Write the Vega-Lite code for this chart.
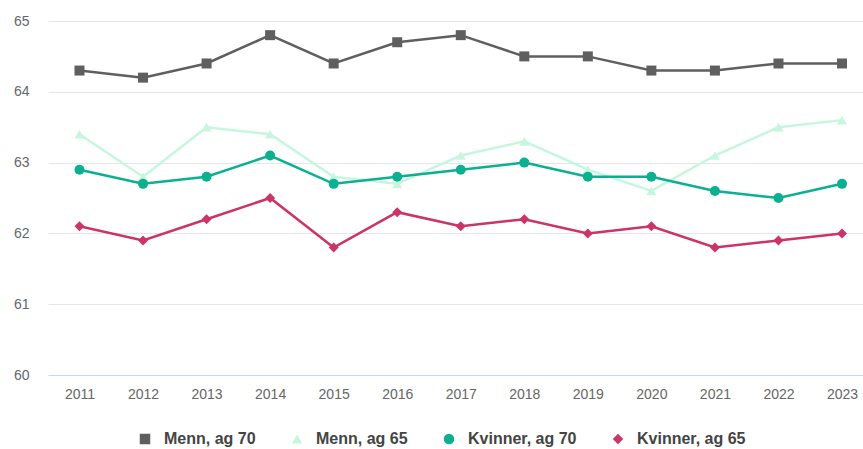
{
  "$schema": "https://vega.github.io/schema/vega-lite/v6.json",
  "width": 815,
  "height": 354,
  "autosize": {"type": "none"},
  "padding": {"left": 48, "top": 21, "right": 0, "bottom": 74},
  "background": "#ffffff",
  "config": {
    "view": {"stroke": null},
    "font": "Liberation Sans",
    "legend": {
      "title": null,
      "orient": "none",
      "direction": "horizontal",
      "legendX": 89,
      "legendY": 410,
      "labelFontSize": 16,
      "labelFontWeight": "bold",
      "labelColor": "#444444",
      "labelOffset": 11,
      "columnPadding": 33,
      "symbolSize": 110,
      "symbolStrokeWidth": 0,
      "symbolOpacity": 1
    }
  },
  "data": {
    "values": [
      {"year": "2011", "serie": "Menn, ag 70", "value": 64.3},
      {"year": "2012", "serie": "Menn, ag 70", "value": 64.2},
      {"year": "2013", "serie": "Menn, ag 70", "value": 64.4},
      {"year": "2014", "serie": "Menn, ag 70", "value": 64.8},
      {"year": "2015", "serie": "Menn, ag 70", "value": 64.4},
      {"year": "2016", "serie": "Menn, ag 70", "value": 64.7},
      {"year": "2017", "serie": "Menn, ag 70", "value": 64.8},
      {"year": "2018", "serie": "Menn, ag 70", "value": 64.5},
      {"year": "2019", "serie": "Menn, ag 70", "value": 64.5},
      {"year": "2020", "serie": "Menn, ag 70", "value": 64.3},
      {"year": "2021", "serie": "Menn, ag 70", "value": 64.3},
      {"year": "2022", "serie": "Menn, ag 70", "value": 64.4},
      {"year": "2023", "serie": "Menn, ag 70", "value": 64.4},
      {"year": "2011", "serie": "Menn, ag 65", "value": 63.4},
      {"year": "2012", "serie": "Menn, ag 65", "value": 62.8},
      {"year": "2013", "serie": "Menn, ag 65", "value": 63.5},
      {"year": "2014", "serie": "Menn, ag 65", "value": 63.4},
      {"year": "2015", "serie": "Menn, ag 65", "value": 62.8},
      {"year": "2016", "serie": "Menn, ag 65", "value": 62.7},
      {"year": "2017", "serie": "Menn, ag 65", "value": 63.1},
      {"year": "2018", "serie": "Menn, ag 65", "value": 63.3},
      {"year": "2019", "serie": "Menn, ag 65", "value": 62.9},
      {"year": "2020", "serie": "Menn, ag 65", "value": 62.6},
      {"year": "2021", "serie": "Menn, ag 65", "value": 63.1},
      {"year": "2022", "serie": "Menn, ag 65", "value": 63.5},
      {"year": "2023", "serie": "Menn, ag 65", "value": 63.6},
      {"year": "2011", "serie": "Kvinner, ag 70", "value": 62.9},
      {"year": "2012", "serie": "Kvinner, ag 70", "value": 62.7},
      {"year": "2013", "serie": "Kvinner, ag 70", "value": 62.8},
      {"year": "2014", "serie": "Kvinner, ag 70", "value": 63.1},
      {"year": "2015", "serie": "Kvinner, ag 70", "value": 62.7},
      {"year": "2016", "serie": "Kvinner, ag 70", "value": 62.8},
      {"year": "2017", "serie": "Kvinner, ag 70", "value": 62.9},
      {"year": "2018", "serie": "Kvinner, ag 70", "value": 63.0},
      {"year": "2019", "serie": "Kvinner, ag 70", "value": 62.8},
      {"year": "2020", "serie": "Kvinner, ag 70", "value": 62.8},
      {"year": "2021", "serie": "Kvinner, ag 70", "value": 62.6},
      {"year": "2022", "serie": "Kvinner, ag 70", "value": 62.5},
      {"year": "2023", "serie": "Kvinner, ag 70", "value": 62.7},
      {"year": "2011", "serie": "Kvinner, ag 65", "value": 62.1},
      {"year": "2012", "serie": "Kvinner, ag 65", "value": 61.9},
      {"year": "2013", "serie": "Kvinner, ag 65", "value": 62.2},
      {"year": "2014", "serie": "Kvinner, ag 65", "value": 62.5},
      {"year": "2015", "serie": "Kvinner, ag 65", "value": 61.8},
      {"year": "2016", "serie": "Kvinner, ag 65", "value": 62.3},
      {"year": "2017", "serie": "Kvinner, ag 65", "value": 62.1},
      {"year": "2018", "serie": "Kvinner, ag 65", "value": 62.2},
      {"year": "2019", "serie": "Kvinner, ag 65", "value": 62.0},
      {"year": "2020", "serie": "Kvinner, ag 65", "value": 62.1},
      {"year": "2021", "serie": "Kvinner, ag 65", "value": 61.8},
      {"year": "2022", "serie": "Kvinner, ag 65", "value": 61.9},
      {"year": "2023", "serie": "Kvinner, ag 65", "value": 62.0}
    ]
  },
  "encoding": {
    "x": {
      "field": "year",
      "type": "ordinal",
      "scale": {"type": "point", "padding": 0.413, "align": 0.6},
      "axis": {
        "title": null,
        "labelAngle": 0,
        "labelFontSize": 14,
        "labelColor": "#666666",
        "labelPadding": 12,
        "ticks": false,
        "domain": true,
        "domainColor": "#ccd6eb",
        "domainWidth": 1,
        "grid": false
      }
    },
    "y": {
      "field": "value",
      "type": "quantitative",
      "scale": {"domain": [60, 65], "nice": false, "zero": false},
      "axis": {
        "title": null,
        "values": [60, 61, 62, 63, 64, 65],
        "labelFontSize": 14,
        "labelColor": "#666666",
        "labelPadding": 19,
        "ticks": false,
        "domain": false,
        "grid": true,
        "gridColor": "#e6e6e6",
        "gridWidth": 1
      }
    },
    "color": {
      "field": "serie",
      "type": "nominal",
      "scale": {
        "domain": ["Menn, ag 70", "Menn, ag 65", "Kvinner, ag 70", "Kvinner, ag 65"],
        "range": ["#5f5f60", "#c6f7de", "#0ab08f", "#cc3366"]
      }
    }
  },
  "layer": [
    {
      "mark": {"type": "line", "strokeWidth": 2.5},
      "encoding": {}
    },
    {
      "mark": {"type": "point", "filled": true, "opacity": 1, "size": 100},
      "encoding": {
        "shape": {
          "field": "serie",
          "type": "nominal",
          "scale": {
            "domain": ["Menn, ag 70", "Menn, ag 65", "Kvinner, ag 70", "Kvinner, ag 65"],
            "range": ["square", "triangle-up", "circle", "diamond"]
          }
        }
      }
    }
  ]
}
